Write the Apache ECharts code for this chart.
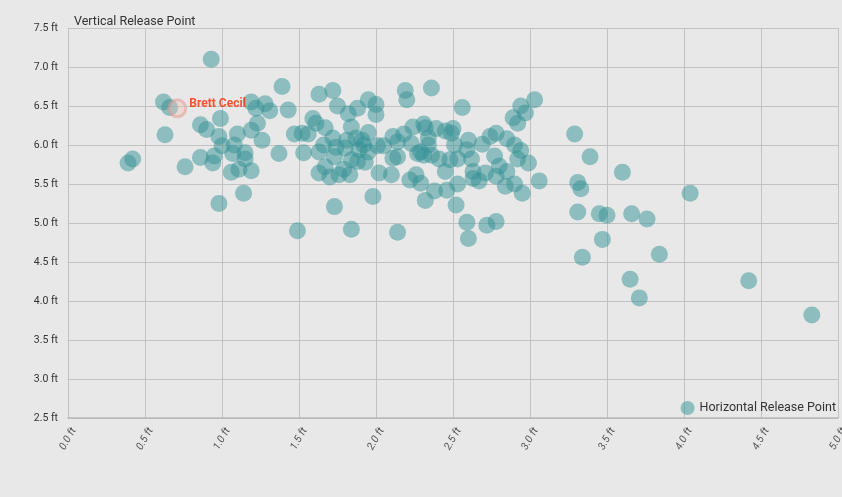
<!DOCTYPE html>
<html lang="en">

<head>
    <meta charset="UTF-8">
    <title>Release Point</title>
    <script src="https://cdn.jsdelivr.net/npm/echarts@6/dist/echarts.min.js"></script>
</head>

<body style="margin: 0; background: #e8e8e8">
    <div id="container" style="width: 842px; height: 497px"></div>
    <script type="text/javascript">
        // horizontal / vertical release point (ft), one entry per pitcher
        var horizontalFt = [
            0.39, 0.42, 0.62, 0.66, 0.63, 0.76, 0.93, 0.86, 0.90, 0.99, 0.98, 1.00, 0.86, 0.95, 0.94, 1.07, 1.08, 1.10, 1.15, 1.15,
            1.06, 1.11, 1.19, 1.19, 1.23, 1.26, 1.19, 1.22, 1.28, 1.31, 1.39, 1.43, 1.37, 1.47, 1.52, 1.56, 1.53, 1.14, 0.98, 1.49,
            1.73, 1.63, 1.72, 1.75, 1.59, 1.61, 1.67, 1.66, 1.72, 1.74, 1.63, 1.73, 1.67, 1.63, 1.70, 1.76, 1.79, 1.83, 1.80, 1.81,
            1.82, 1.88, 1.84, 1.95, 2.00, 2.00, 1.87, 1.91, 1.92, 1.95, 1.89, 1.84, 1.88, 1.93, 1.95, 2.01, 2.05, 2.02, 2.10, 1.98,
            2.19, 2.20, 2.11, 2.14, 2.18, 2.23, 2.24, 2.11, 2.14, 2.22, 2.26, 2.27, 2.36, 2.56, 3.03, 2.94, 2.97, 2.89, 2.92, 2.31,
            2.32, 2.39, 2.45, 2.50, 2.49, 2.34, 2.34, 2.29, 2.31, 2.36, 2.41, 2.48, 2.53, 2.51, 2.60, 2.59, 2.62, 2.69, 2.74, 2.78,
            2.85, 2.90, 2.94, 2.92, 2.99, 2.77, 2.80, 2.85, 2.78, 2.71, 2.63, 2.67, 2.63, 2.53, 2.45, 2.29, 2.38, 2.46, 2.32, 2.52,
            2.84, 2.90, 2.95, 3.06, 1.84, 2.14, 2.59, 2.72, 2.78, 2.60, 3.29, 3.39, 3.60, 3.31, 3.33, 4.04, 3.31, 3.45, 3.50, 3.66,
            3.76, 3.47, 3.34, 3.84, 3.65, 3.71, 4.42, 4.83
        ];
        var verticalFt = [
            5.77, 5.82, 6.55, 6.48, 6.13, 5.72, 7.10, 6.26, 6.20, 6.34, 6.11, 5.99, 5.84, 5.86, 5.77, 5.89, 6.00, 6.14, 5.90, 5.82,
            5.65, 5.69, 5.67, 6.19, 6.28, 6.06, 6.55, 6.47, 6.53, 6.44, 6.75, 6.45, 5.89, 6.14, 6.15, 6.14, 5.90, 5.38, 5.25, 4.90,
            5.21, 6.65, 6.70, 6.50, 6.34, 6.28, 6.22, 6.00, 6.09, 5.97, 5.91, 5.85, 5.72, 5.64, 5.59, 5.62, 5.69, 5.62, 5.96, 6.06,
            6.40, 6.47, 6.23, 6.58, 6.52, 6.39, 6.09, 6.06, 6.00, 6.16, 5.94, 5.81, 5.79, 5.78, 5.91, 5.99, 5.99, 5.64, 5.62, 5.34,
            6.70, 6.58, 6.11, 6.04, 6.14, 6.02, 6.23, 5.83, 5.85, 5.55, 5.62, 5.89, 6.73, 6.48, 6.58, 6.50, 6.41, 6.35, 6.28, 6.27,
            6.22, 6.21, 6.18, 6.21, 6.15, 6.09, 6.00, 5.91, 5.87, 5.87, 5.82, 5.81, 5.82, 6.00, 6.06, 5.94, 5.82, 6.01, 6.11, 6.15,
            6.08, 6.00, 5.93, 5.82, 5.77, 5.86, 5.73, 5.66, 5.60, 5.64, 5.66, 5.54, 5.57, 5.50, 5.66, 5.51, 5.41, 5.42, 5.29, 5.23,
            5.47, 5.50, 5.38, 5.54, 4.92, 4.88, 5.01, 4.97, 5.02, 4.80, 6.14, 5.85, 5.65, 5.52, 5.44, 5.38, 5.14, 5.12, 5.10, 5.12,
            5.05, 4.79, 4.56, 4.60, 4.28, 4.04, 4.26, 3.82
        ];
        var highlightName = 'Brett Cecil';
        var highlightPoint = [0.71, 6.47];

        var points = [];
        for (let i = 0; i < horizontalFt.length; i++) {
            points.push([horizontalFt[i], verticalFt[i]]);
        }

        var myChart = echarts.init(document.getElementById('container'), null, { renderer: 'canvas' });
        var ftLabel = function (v) { return v.toFixed(1) + ' ft'; };

        var option = {
            backgroundColor: '#e8e8e8',
            textStyle: { fontFamily: 'Roboto' },
            title: {
                text: 'Vertical Release Point',
                left: 69, top: 10,
                textStyle: { fontSize: 12.5, fontWeight: 'normal', color: '#333' }
            },
            legend: {
                data: ['Horizontal Release Point'],
                right: 1, top: 396,
                icon: 'circle',
                itemWidth: 14, itemHeight: 14,
                textStyle: { fontSize: 12.5, color: '#333' }
            },
            // v6 would shrink the grid to keep the last rotated label inside; the reference clips it
            grid: { left: 68, right: 4, top: 28, bottom: 79, outerBoundsMode: 'none' },
            xAxis: {
                type: 'value',
                min: 0, max: 5, interval: 0.5,
                axisLine: { show: true, lineStyle: { color: '#b8b8b8', width: 1.5 } },
                axisTick: { show: false },
                splitLine: { lineStyle: { color: '#c2c2c2' } },
                axisLabel: {
                    formatter: ftLabel, rotate: 60, margin: 21,
                    align: 'center', verticalAlign: 'middle',
                    fontSize: 10.5, color: '#555', fontStyle: 'italic'
                }
            },
            yAxis: {
                type: 'value',
                min: 2.5, max: 7.5, interval: 0.5,
                axisLine: { show: true, lineStyle: { color: '#c2c2c2' } },
                axisTick: { show: false },
                splitLine: { lineStyle: { color: '#c2c2c2' } },
                axisLabel: { formatter: ftLabel, fontSize: 10.5, color: '#333', margin: 10 }
            },
            series: [
                {
                    name: 'Horizontal Release Point',
                    type: 'scatter',
                    symbolSize: 17,
                    itemStyle: { color: 'rgb(52,146,150)', opacity: 0.5 },
                    emphasis: { disabled: true },
                    data: points
                },
                {
                    name: highlightName,
                    type: 'scatter',
                    symbolSize: 17,
                    itemStyle: {
                        color: 'rgba(240,190,180,0.45)',
                        borderColor: 'rgba(225,150,140,0.6)',
                        borderWidth: 3
                    },
                    label: {
                        show: true,
                        position: 'right',
                        distance: 2,
                        offset: [0, -4],
                        formatter: highlightName,
                        color: '#ff2a00',
                        fontWeight: 'bold',
                        fontSize: 12
                    },
                    data: [highlightPoint]
                }
            ]
        };

        myChart.setOption(option);
    </script>
</body>

</html>
